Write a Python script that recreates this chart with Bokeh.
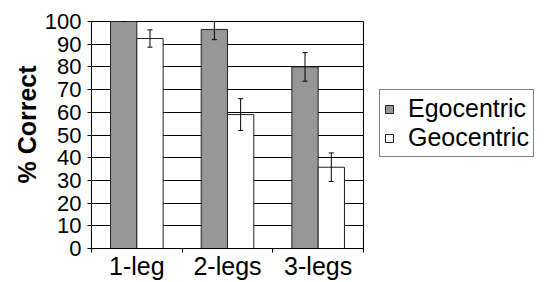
import numpy as np
from bokeh.plotting import figure
from bokeh.models import (ColumnDataSource, Range1d, FixedTicker, Whisker, TeeHead,
                          Legend, LegendItem, Title)
from bokeh.embed import file_html
from bokeh.resources import INLINE

# ---- data ----
categories = ["1-leg", "2-legs", "3-legs"]
series = ["Egocentric", "Geocentric"]
ego_values = [100, 96.5, 80.0]
ego_errors = [0, 4.5, 6.3]
geo_values = [92.5, 59.0, 35.8]
geo_errors = [3.8, 7.0, 6.3]
y_ticks = [0, 10, 20, 30, 40, 50, 60, 70, 80, 90, 100]

FONT = "Liberation Sans"
bar_w = 0.29
dodge = 0.145

idx = np.arange(len(categories)) + 0.5
ego_src = ColumnDataSource(dict(
    x=idx - dodge, top=ego_values,
    upper=np.array(ego_values) + np.array(ego_errors),
    lower=np.array(ego_values) - np.array(ego_errors)))
geo_src = ColumnDataSource(dict(
    x=idx + dodge, top=geo_values,
    upper=np.array(geo_values) + np.array(geo_errors),
    lower=np.array(geo_values) - np.array(geo_errors)))

p = figure(frame_width=272, frame_height=227, output_backend="svg", toolbar_location=None,
           x_range=Range1d(0, len(categories)), y_range=Range1d(0, 100),
           min_border_left=91, min_border_top=21, min_border_right=0, min_border_bottom=0)
p.background_fill_color = "white"
p.border_fill_color = "white"
p.outline_line_color = "black"
p.outline_line_width = 1

r_ego = p.vbar(x="x", top="top", bottom=0, width=bar_w, source=ego_src,
               fill_color="#969696", line_color="#222222", line_width=1)
r_geo = p.vbar(x="x", top="top", bottom=0, width=bar_w, source=geo_src,
               fill_color="white", line_color="#222222", line_width=1)

for src in (ego_src, geo_src):
    w = Whisker(base="x", upper="upper", lower="lower", source=src, level="overlay",
                line_color="black", line_width=1,
                upper_head=TeeHead(size=5, line_color="black", line_width=1),
                lower_head=TeeHead(size=5, line_color="black", line_width=1))
    p.add_layout(w)

# grids
p.xgrid.grid_line_color = None
p.ygrid.grid_line_color = "black"
p.ygrid.grid_line_width = 1
p.ygrid.ticker = FixedTicker(ticks=y_ticks)

# y axis
p.yaxis.ticker = FixedTicker(ticks=y_ticks)
p.yaxis.major_label_text_font = FONT
p.yaxis.major_label_text_font_size = "22px"
p.yaxis.major_label_text_color = "black"
p.yaxis.major_tick_out = 4
p.yaxis.major_tick_in = 0
p.yaxis.minor_tick_line_color = None
p.yaxis.axis_line_color = "black"
p.yaxis.major_tick_line_color = "black"
p.yaxis.major_label_standoff = 6

# x axis
p.xaxis.ticker = FixedTicker(ticks=list(idx), minor_ticks=list(range(len(categories) + 1)))
p.xaxis.major_label_overrides = {float(v): c for v, c in zip(idx, categories)}
p.xaxis.major_tick_line_color = None
p.xaxis.major_tick_out = 0
p.xaxis.major_tick_in = 0
p.xaxis.minor_tick_line_color = "black"
p.xaxis.minor_tick_out = 4
p.xaxis.minor_tick_in = 0
p.xaxis.axis_line_color = "black"
p.xaxis.major_label_text_font = FONT
p.xaxis.major_label_text_font_size = "25px"
p.xaxis.major_label_text_color = "black"
p.xaxis.major_label_standoff = -1

# y label as title on the left
t = Title(text="% Correct", align="left", offset=65, text_font=FONT,
          text_font_size="25px", text_font_style="bold", text_color="black", standoff=2)
p.add_layout(t, "left")

legend = Legend(items=[LegendItem(label=series[0], renderers=[r_ego]),
                       LegendItem(label=series[1], renderers=[r_geo])],
                location=(16, 91), orientation="vertical",
                label_text_font=FONT, label_text_font_size="25px", label_text_color="black",
                glyph_width=10, glyph_height=10, label_standoff=14, label_height=20,
                spacing=0, padding=4, margin=11,
                border_line_color="black", border_line_width=1,
                background_fill_color="white", background_fill_alpha=1.0)
p.add_layout(legend, "right")

open("out.html", "w").write(file_html(p, INLINE))
